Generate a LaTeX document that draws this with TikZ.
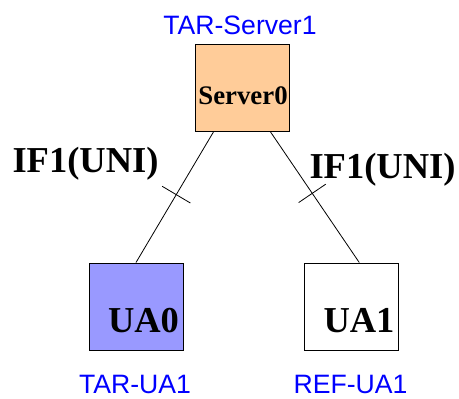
\documentclass[tikz,border=0pt]{standalone}
\usepackage{fontspec}
\setmainfont{Liberation Serif}
\setsansfont{Liberation Sans}
\usetikzlibrary{calc}

\definecolor{srvfill}{RGB}{255,204,153}
\definecolor{uafill}{RGB}{153,153,255}

\tikzset{
  box/.style={draw, line width=1pt, minimum width=94pt, minimum height=87pt, inner sep=0pt},
  boldtext/.style={font=\bfseries\fontsize{36.5}{36.5}\selectfont, anchor=base, inner sep=0pt},
  bluetag/.style={font=\sffamily\fontsize{26.6}{26.6}\selectfont, text=blue, anchor=base, inner sep=0pt},
  linktick/.style={sloped, inner sep=0pt, minimum width=0pt, minimum height=32pt}
}

\begin{document}
\begin{tikzpicture}[x=1pt,y=-1pt]

      \useasboundingbox (0,0) rectangle (459,399);

      % The server on top.
      \node[box, fill=srvfill] (srv) at (242,88) {};
      \node[boldtext, font=\bfseries\fontsize{26.8}{26.8}\selectfont] (srvname) at (243,104) {Server0};
      \node[bluetag] (srvtag) at (240,34) {TAR-Server1};

      % The two user agents.
      \node[box, fill=uafill] (ua0) at (136,306.5) {};
      \node[boldtext] (ua0name) at (143.5,332) {UA0};
      \node[bluetag] (ua0tag) at (135,393) {TAR-UA1};

      \node[box, fill=white] (ua1) at (351.5,306.5) {};
      \node[boldtext] (ua1name) at (359,332) {UA1};
      \node[bluetag] (ua1tag) at (350.5,393) {REF-UA1};

      % Links, each with a tick in the middle.
      \draw[line width=0.8pt] (srv.237.5) -- node[linktick, pos=0.48] (t0) {} (ua0.north);
      \draw[line width=0.8pt] (t0.north) -- (t0.south);
      \draw[line width=0.8pt] (srv.303.4) -- node[linktick, pos=0.47] (t1) {} (ua1.80);
      \draw[line width=0.8pt] (t1.north) -- (t1.south);

      \node[boldtext] (if0) at (85.5,172) {IF1(UNI)};
      \node[boldtext] (if1) at (382.5,178) {IF1(UNI)};

\end{tikzpicture}
\end{document}
